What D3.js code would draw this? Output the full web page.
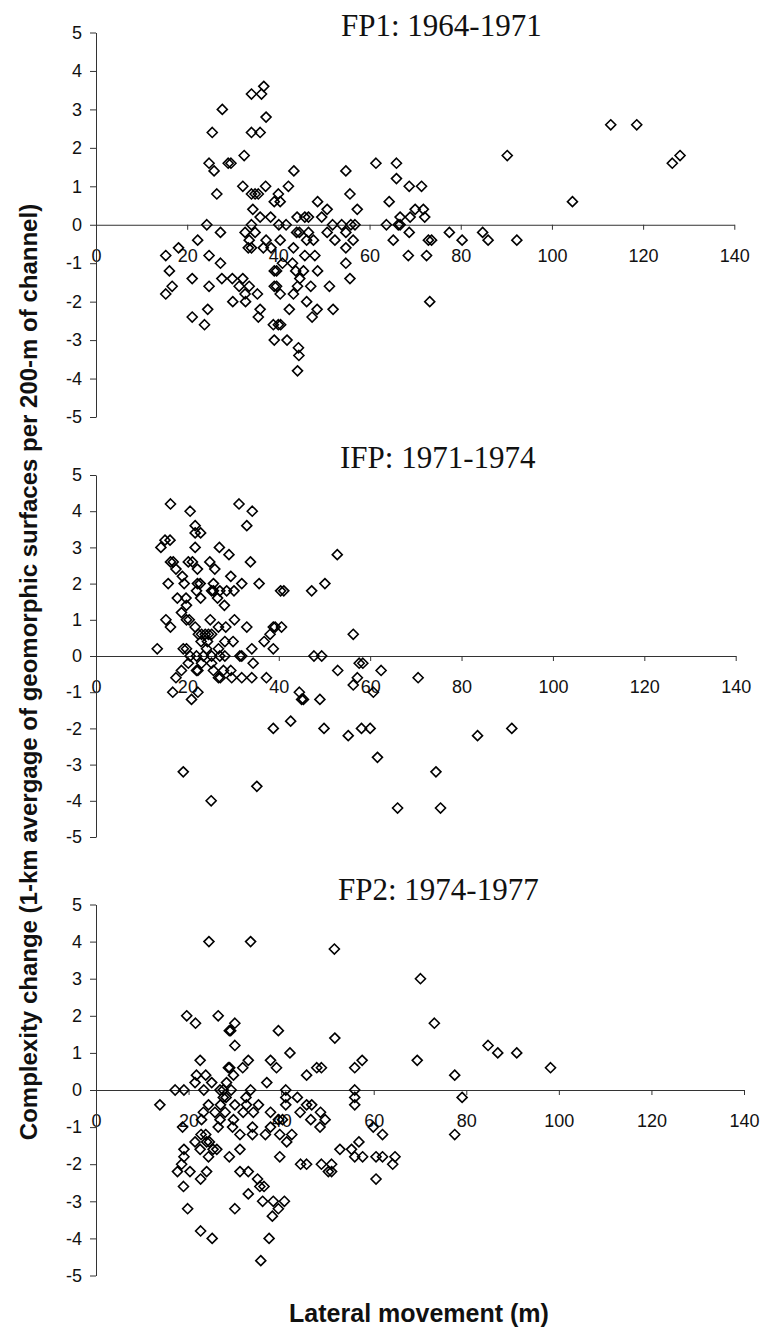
<!DOCTYPE html>
<html>
<head>
<meta charset="utf-8">
<script src="https://cdn.jsdelivr.net/npm/d3@7"></script>
<style>
  body { margin: 0; background: #fff; }
  svg { display: block; }
</style>
</head>
<body>
<svg id="chart" width="766" height="1330"></svg>
<script>
// ---- data -------------------------------------------------------------
const xTicks = [0, 20, 40, 60, 80, 100, 120, 140];
const yTicks = [-5, -4, -3, -2, -1, 0, 1, 2, 3, 4, 5];
const panelTitles = ["FP1: 1964-1971", "IFP: 1971-1974", "FP2: 1974-1977"];
const yAxisTitle = "Complexity change (1-km avergage of geomorphic surfaces per 200-m of channel)";
const xAxisTitle = "Lateral movement (m)";

// [lateral movement (m), complexity change]
const fp1 = [
  [25.5,2.4],[27.7,3.0],[34.1,3.4],[36.3,3.4],[36.8,3.6],[37.3,2.8],[34.1,2.4],[36.0,2.4],
  [24.8,1.6],[25.9,1.4],[26.5,0.8],[29.0,1.6],[29.6,1.6],[32.5,1.8],[32.2,1.0],
  [34.1,0.8],[34.9,0.8],[35.6,0.8],[37.2,1.0],[40.0,0.8],[39.1,0.6],[40.4,0.6],[42.2,1.0],[43.4,1.4],
  [34.4,0.4],[36.0,0.2],[38.3,0.2],[44.1,0.2],[45.8,0.2],[46.6,0.2],[48.6,0.6],[49.5,0.2],[50.7,0.4],
  [54.8,1.4],[55.7,0.8],[57.3,0.4],[61.4,1.6],[65.9,1.6],[65.9,1.2],[68.7,1.0],[71.4,1.0],[64.3,0.6],
  [66.7,0.2],[68.9,0.2],[70.0,0.4],[71.8,0.4],[72.1,0.2],
  [90.2,1.8],[104.5,0.6],[112.9,2.6],[118.6,2.6],[126.4,1.6],[128.1,1.8],
  [15.3,-0.8],[18.1,-0.6],[22.3,-0.4],[24.3,0],[27.3,-0.2],[16.1,-1.2],[16.7,-1.6],[15.3,-1.8],
  [21.1,-1.4],[24.8,-0.8],[27.3,-1.0],[24.8,-1.6],[27.6,-1.4],[21.1,-2.4],[24.5,-2.2],[23.8,-2.6],
  [29.9,-1.4],[30.0,-2.0],[32.2,-1.4],[31.4,-1.6],[32.8,-2.0],[32.7,-1.8],[33.6,-1.6],[35.4,-1.8],
  [35.6,-2.4],[36.0,-2.2],
  [32.7,-0.2],[34.9,-0.2],[34.1,0],[33.4,-0.6],[34.1,-0.6],[33.6,-0.4],[36.7,-0.6],[37.3,-0.4],
  [38.4,-0.6],[40.4,-0.4],[40.1,0],[41.7,0],
  [39.1,-1.2],[39.6,-1.2],[39.1,-1.6],[39.6,-1.6],[40.4,-1.8],[38.9,-2.6],[40.0,-2.6],[40.5,-2.6],
  [39.1,-3.0],[41.9,-3.0],
  [40.9,-1.0],[43.3,-0.6],[43.1,-1.0],[43.8,-1.2],[43.3,-1.8],[42.4,-2.2],[44.0,-0.2],[44.6,-0.2],
  [46.6,-0.2],[46.2,-0.4],[45.8,-0.8],[45.5,-1.2],[44.7,-1.4],[44.2,-1.6],
  [44.4,-3.2],[44.5,-3.4],[44.2,-3.8],[46.2,-2.0],[47.1,-1.6],[47.4,-2.4],[48.5,-2.2],[48.0,-0.8],
  [47.7,-0.4],[48.6,-1.2],
  [50.7,-0.2],[51.9,0],[52.4,-0.4],[51.2,-1.6],[52.0,-2.2],[53.9,0],[54.8,-0.2],[54.8,-0.6],
  [54.8,-1.0],[55.7,-1.4],[55.9,0],[56.8,0],[56.4,-0.4],
  [63.7,0],[65.2,-0.4],[66.3,0],[66.7,0],[68.7,-0.2],[68.5,-0.8],[72.5,-0.8],[72.9,-0.4],
  [73.6,-0.4],[73.2,-2.0],
  [77.5,-0.2],[80.3,-0.4],[84.8,-0.2],[86.0,-0.4],[92.3,-0.4]
];

const ifp = [
  [16.3,4.2],[20.6,4.0],[21.7,3.6],[21.7,3.4],[22.9,3.4],[21.7,3.0],[31.3,4.2],[34.2,4.0],[33.0,3.6],
  [15.1,3.2],[16.2,3.2],[14.2,3.0],[27.0,3.0],[29.1,2.8],[16.3,2.6],[16.9,2.6],[17.5,2.4],[20.2,2.6],
  [21.1,2.6],[22.2,2.4],[24.9,2.6],[26.0,2.4],[33.8,2.6],[18.9,2.2],[29.5,2.2],[15.8,2.0],[19.3,2.0],
  [22.2,2.0],[22.8,2.0],[25.7,2.0],[31.9,2.0],[35.7,2.0],[25.3,1.8],[25.7,1.8],[22.0,1.8],[28.6,1.8],
  [30.2,1.8],[27.1,1.8],[40.4,1.8],[41.1,1.8],[47.2,1.8],[50.1,2.0],[52.8,2.8],[17.8,1.6],[19.7,1.6],
  [22.9,1.6],[26.6,1.6],[19.8,1.4],[28.1,1.4],
  [13.4,0.2],[15.3,1.0],[16.3,0.8],[18.7,1.2],[19.8,1.0],[20.4,1.0],[21.7,0.8],[22.4,0.6],[23.1,0.6],
  [23.9,0.6],[24.6,0.6],[25.3,0.6],[23.0,0.4],[24.4,0.4],[25.0,1.0],[26.8,0.8],[28.4,0.8],[30.3,1.0],
  [33.0,0.8],[28.2,0.4],[30.0,0.4],[26.8,0.2],[24.2,0.2],[19.1,0.2],[19.8,0.2],[20.6,0],[22.0,0],
  [23.5,0],[25.3,0],[27.1,0],[28.2,0],[31.5,0],[31.9,0],[34.1,0.2],[36.8,0.4],[38.1,0.6],[38.8,0.8],
  [39.2,0.8],[40.6,0.8],[38.8,0.2],[56.3,0.6],[47.7,0],[49.4,0],
  [52.9,-0.4],[56.3,-0.8],[57.2,-0.6],[17.5,-0.6],[16.8,-1.0],[18.7,-0.4],[20.9,-1.2],[22.0,-0.4],
  [22.3,-0.4],[22.3,-1.0],[20.2,-0.2],[23.1,-0.2],[25.3,-0.2],[26.8,-0.6],[27.2,-0.6],[25.7,-0.4],
  [27.9,-0.4],[29.5,-0.4],[29.7,-0.6],[31.9,-0.6],[34.1,-0.6],[34.4,-0.2],[37.3,-0.6],[44.5,-1.0],
  [45.0,-1.2],[45.4,-1.2],[49.0,-1.2],
  [38.8,-2.0],[19.1,-3.2],[25.2,-4.0],[35.2,-3.6],[42.6,-1.8],[49.9,-2.0],[55.2,-2.2],[57.6,-0.2],
  [58.4,-0.2],[58.1,-2.0],[60.0,-2.0],[60.7,-1.0],[62.4,-0.4],[61.6,-2.8],[66.0,-4.2],[70.5,-0.6],
  [74.4,-3.2],[75.4,-4.2],[83.5,-2.2],[91.0,-2.0]
];

const fp2 = [
  [24.4,4.0],[33.4,4.0],[51.5,3.8],[19.6,2.0],[21.5,1.8],[26.4,2.0],[30.0,1.8],[28.8,1.6],[29.1,1.6],
  [30.0,1.2],[39.4,1.6],[41.9,1.0],[51.6,1.4],[70.1,3.0],[73.1,1.8],
  [69.4,0.8],[77.5,0.4],[84.7,1.2],[86.8,1.0],[90.9,1.0],[98.2,0.6],[79.1,-0.2],[77.5,-1.2],
  [22.5,0.8],[32.9,0.8],[37.7,0.8],[57.5,0.8],[31.7,0.6],[39.0,0.6],[47.7,0.6],[48.7,0.6],[55.9,0.6],
  [45.5,0.4],[21.7,0.4],[23.7,0.4],[21.4,0.2],[25.0,0.2],[23.3,0],[28.2,0.2],[28.6,0.6],[28.9,0.6],
  [29.7,0.4],[36.9,0.2],[17.1,0],[19.0,0],[13.8,-0.4],[26.8,0],[27.5,0],[29.2,0],[33.4,0],[41.0,0],
  [55.9,0],
  [27.5,-0.2],[28.1,-0.2],[32.4,-0.2],[41.0,-0.2],[43.5,-0.2],[55.9,-0.2],
  [24.3,-0.4],[26.9,-0.4],[30.0,-0.4],[32.5,-0.4],[35.1,-0.4],[41.0,-0.4],[45.5,-0.4],[46.6,-0.4],
  [55.9,-0.4],
  [23.2,-0.6],[25.7,-0.6],[27.9,-0.6],[31.8,-0.6],[34.0,-0.6],[37.7,-0.6],[44.1,-0.6],[48.5,-0.6],
  [22.8,-0.8],[26.8,-0.8],[29.7,-0.8],[39.4,-0.8],[40.3,-0.8],[46.4,-0.8],[49.5,-0.8],
  [18.7,-1.0],[26.4,-1.0],[29.5,-1.0],[33.8,-1.0],[37.7,-1.0],[48.4,-1.0],[59.9,-1.0],
  [22.7,-1.2],[23.7,-1.2],[31.1,-1.2],[33.8,-1.2],[36.6,-1.2],[39.7,-1.2],[42.3,-1.2],[61.9,-1.2],
  [21.4,-1.4],[23.9,-1.4],[24.5,-1.4],[41.2,-1.4],[56.8,-1.4],
  [19.0,-1.6],[22.5,-1.6],[25.3,-1.6],[26.1,-1.6],[31.1,-1.6],[52.7,-1.6],[55.2,-1.6],
  [19.0,-1.8],[24.3,-1.8],[28.8,-1.8],[39.7,-1.8],[55.9,-1.8],[57.6,-1.8],[60.5,-1.8],[61.9,-1.8],
  [64.6,-1.8],
  [18.5,-2.0],[44.2,-2.0],[45.5,-2.0],[48.7,-2.0],[50.9,-2.0],[64.1,-2.0],
  [17.6,-2.2],[20.3,-2.2],[23.9,-2.2],[31.1,-2.2],[32.9,-2.2],[50.2,-2.2],[50.9,-2.2],
  [18.9,-2.6],[22.6,-2.4],[34.9,-2.4],[35.4,-2.6],[36.3,-2.6],[60.5,-2.4],
  [32.9,-2.8],[36.0,-3.0],[38.3,-3.0],[40.7,-3.0],[39.4,-3.2],[38.1,-3.4],[19.8,-3.2],[30.0,-3.2],
  [22.6,-3.8],[25.1,-4.0],[37.4,-4.0],[35.6,-4.6]
];

const panelData = [fp1, ifp, fp2];

// ---- layout -----------------------------------------------------------
const layout = [
  { left: 96, right: 734.3, top: 32.5, bottom: 417,   titleX: 341, titleY: 36 },
  { left: 96, right: 735.7, top: 475,  bottom: 837,   titleX: 340, titleY: 468 },
  { left: 96, right: 744,   top: 904.5, bottom: 1275.5, titleX: 338, titleY: 900 }
];

const sansFont = "'Liberation Sans', Arial, Helvetica, sans-serif";
const serifFont = "'Liberation Serif', 'Times New Roman', Times, serif";
const plainNumber = d => String(d);   // hyphen-minus for negatives

// open square diamond centred on the point
const diamond = {
  draw(ctx, size) {
    const r = Math.sqrt(size) / 2;
    ctx.moveTo(0, -r);
    ctx.lineTo(r, 0);
    ctx.lineTo(0, r);
    ctx.lineTo(-r, 0);
    ctx.closePath();
  }
};
const marker = d3.symbol().type(diamond).size(100);

const svg = d3.select("#chart");

panelData.forEach((data, i) => {
  const L = layout[i];
  const x = d3.scaleLinear().domain([0, 140]).range([L.left, L.right]);
  const y = d3.scaleLinear().domain([-5, 5]).range([L.bottom, L.top]);
  const g = svg.append("g");

  // horizontal axis drawn through zero
  const xAxis = g.append("g")
    .attr("transform", `translate(0,${y(0)})`)
    .call(d3.axisBottom(x).tickValues(xTicks).tickFormat(plainNumber)
      .tickSize(5).tickSizeOuter(0).tickPadding(19));
  xAxis.select(".domain").attr("stroke", "#333");
  xAxis.selectAll(".tick line").attr("stroke", "#333");
  xAxis.selectAll(".tick text")
    .attr("font-family", sansFont).attr("font-size", 18).attr("fill", "#111");

  // vertical axis
  const yAxis = g.append("g")
    .attr("transform", `translate(${L.left},0)`)
    .call(d3.axisLeft(y).tickValues(yTicks).tickFormat(plainNumber)
      .tickSize(6).tickSizeOuter(0).tickPadding(8));
  yAxis.select(".domain").attr("stroke", "#333");
  yAxis.selectAll(".tick line").attr("stroke", "#333");
  yAxis.selectAll(".tick text")
    .attr("font-family", sansFont).attr("font-size", 18).attr("fill", "#111");

  // panel title
  g.append("text")
    .attr("x", L.titleX).attr("y", L.titleY)
    .attr("font-family", serifFont).attr("font-size", 31).attr("fill", "#111")
    .text(panelTitles[i]);

  // points
  g.append("g").selectAll("path")
    .data(data)
    .join("path")
    .attr("transform", d => `translate(${x(d[0])},${y(d[1])})`)
    .attr("d", marker)
    .attr("fill", "none")
    .attr("stroke", "#000")
    .attr("stroke-width", 1.6);
});

// shared axis titles
svg.append("text")
  .attr("transform", "translate(37,672) rotate(-90)")
  .attr("text-anchor", "middle")
  .attr("font-family", sansFont).attr("font-weight", "bold").attr("font-size", 24)
  .attr("fill", "#111")
  .text(yAxisTitle);

svg.append("text")
  .attr("x", 419).attr("y", 1322)
  .attr("text-anchor", "middle")
  .attr("font-family", sansFont).attr("font-weight", "bold").attr("font-size", 25)
  .attr("fill", "#111")
  .text(xAxisTitle);
</script>
</body>
</html>
